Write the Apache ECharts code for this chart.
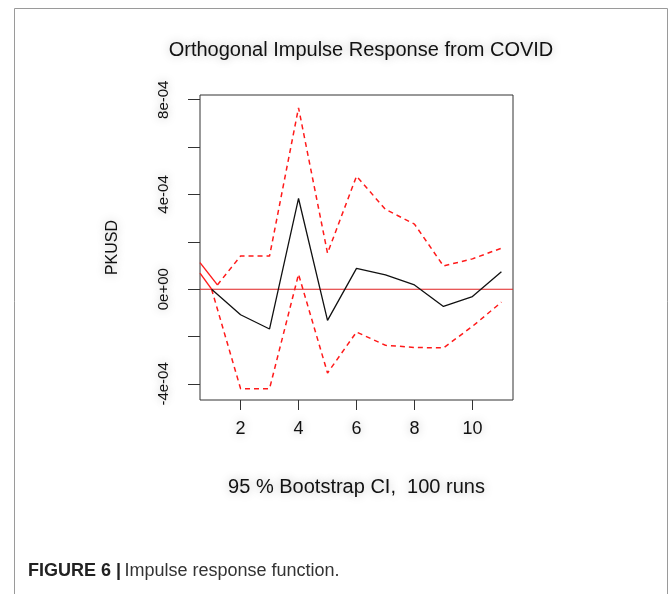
<!DOCTYPE html>
<html>
<head>
<meta charset="utf-8">
<script src="https://cdn.jsdelivr.net/npm/echarts@6/dist/echarts.min.js"></script>
<style>
html,body{margin:0;padding:0;background:#fff;}
#chart{width:669px;height:594px;}
</style>
</head>
<body>
<div id="chart"></div>
<script>
// ---- data ----
const horizons = [1, 2, 3, 4, 5, 6, 7, 8, 9, 10, 11];
const irfValues = [0, -1.08e-4, -1.68e-4, 3.83e-4, -1.32e-4, 0.88e-4, 0.60e-4, 0.18e-4, -0.73e-4, -0.31e-4, 0.74e-4];
const upperX = [1.2, 2, 3, 4, 5, 6, 7, 8, 9, 10, 11];
const upperValues = [0.18e-4, 1.40e-4, 1.40e-4, 7.66e-4, 1.52e-4, 4.77e-4, 3.37e-4, 2.75e-4, 0.98e-4, 1.28e-4, 1.73e-4];
const lowerValues = [0, -4.20e-4, -4.20e-4, 0.63e-4, -3.54e-4, -1.81e-4, -2.37e-4, -2.46e-4, -2.48e-4, -1.57e-4, -0.55e-4];
const upperLeadX = [0.6, 1.2];
const upperLeadValues = [1.12e-4, 0.18e-4];
const lowerLeadX = [0.6, 1];
const lowerLeadValues = [0.68e-4, 0];
const zeroLineX = [0.6, 11.4];
const zeroLineValues = [0, 0];
const xTicks = [2, 4, 6, 8, 10];
const yTicks = [-4e-4, -2e-4, 0, 2e-4, 4e-4, 6e-4, 8e-4];
const yTickLabels = [-4e-4, 0, 4e-4, 8e-4];
const yLabelText = {"-0.0004": "-4e-04", "0": "0e+00", "0.0004": "4e-04", "0.0008": "8e-04"};

const pair = (xs, ys) => xs.map((x, i) => [x, ys[i]]);

const FONT = "'Liberation Sans', Arial, Helvetica, sans-serif";
const shadow = {textShadowColor: 'rgba(0,0,0,0.28)', textShadowBlur: 10};

const chart = echarts.init(document.getElementById('chart'), null, {renderer: 'canvas'});
chart.setOption({
  backgroundColor: '#ffffff',
  animation: false,
  title: {
    text: 'Orthogonal Impulse Response from COVID',
    left: 356, top: 35, textAlign: 'center',
    textStyle: Object.assign({fontFamily: FONT, fontSize: 20, fontWeight: 'normal', color: '#111'}, shadow)
  },
  grid: {
    left: 200, top: 95, right: 156, bottom: 194,
    show: true, borderColor: '#333', borderWidth: 1, backgroundColor: 'transparent'
  },
  xAxis: {
    type: 'value', min: 0.6, max: 11.4,
    name: '95 % Bootstrap CI,  100 runs',
    nameLocation: 'middle', nameGap: 77,
    nameTextStyle: Object.assign({fontFamily: FONT, fontSize: 20, color: '#111'}, shadow),
    axisLine: {show: false, onZero: false},
    splitLine: {show: false},
    axisTick: {show: true, length: 10, lineStyle: {color: '#333'}, customValues: xTicks},
    axisLabel: Object.assign({fontFamily: FONT, fontSize: 18, color: '#111', margin: 20, customValues: xTicks}, shadow)
  },
  yAxis: {
    type: 'value', min: -4.68e-4, max: 8.2e-4,
    name: 'PKUSD',
    nameLocation: 'middle', nameGap: 79, nameRotate: 90,
    nameTextStyle: Object.assign({fontFamily: FONT, fontSize: 16, color: '#111'}, shadow),
    axisLine: {show: false, onZero: false},
    splitLine: {show: false},
    axisTick: {show: true, length: 12, lineStyle: {color: '#333'}, customValues: yTicks},
    axisLabel: Object.assign({
      fontFamily: FONT, fontSize: 15, color: '#111', rotate: 90, margin: 29,
      customValues: yTickLabels,
      formatter: v => yLabelText[String(+v.toFixed(6))] || ''
    }, shadow)
  },
  series: [
    {
      name: 'zero', type: 'line', symbol: 'none', silent: true,
      data: pair(zeroLineX, zeroLineValues),
      lineStyle: {color: '#e02020', width: 1.1, type: 'solid'}, z: 1
    },
    {
      name: 'upper lead', type: 'line', symbol: 'none', silent: true,
      data: pair(upperLeadX, upperLeadValues),
      lineStyle: {color: '#ff1a1a', width: 1.4, type: 'solid'}
    },
    {
      name: 'lower lead', type: 'line', symbol: 'none', silent: true,
      data: pair(lowerLeadX, lowerLeadValues),
      lineStyle: {color: '#ff1a1a', width: 1.4, type: 'solid'}
    },
    {
      name: 'Upper CI', type: 'line', symbol: 'none', silent: true,
      data: pair(upperX, upperValues),
      lineStyle: {color: '#ff1a1a', width: 1.5, type: [5, 4]}
    },
    {
      name: 'Lower CI', type: 'line', symbol: 'none', silent: true,
      data: pair(horizons, lowerValues),
      lineStyle: {color: '#ff1a1a', width: 1.5, type: [5, 4]}
    },
    {
      name: 'PKUSD', type: 'line', symbol: 'none', silent: true,
      data: pair(horizons, irfValues),
      lineStyle: {color: '#111', width: 1.3},
      z: 3
    }
  ],
  graphic: [
    {
      type: 'rect', silent: true, z: -1,
      shape: {x: 14.5, y: 8.5, width: 653, height: 620},
      style: {fill: 'none', stroke: '#9a9a9a', lineWidth: 1}
    },
    {
      type: 'text', left: 28, top: 562, silent: true,
      style: {
        text: '{b|FIGURE 6 |} {n|Impulse response function.}',
        rich: {
          b: {fontFamily: FONT, fontSize: 18, fontWeight: 'bold', fill: '#222'},
          n: {fontFamily: FONT, fontSize: 18, fill: '#333'}
        }
      }
    }
  ]
});
</script>
</body>
</html>
